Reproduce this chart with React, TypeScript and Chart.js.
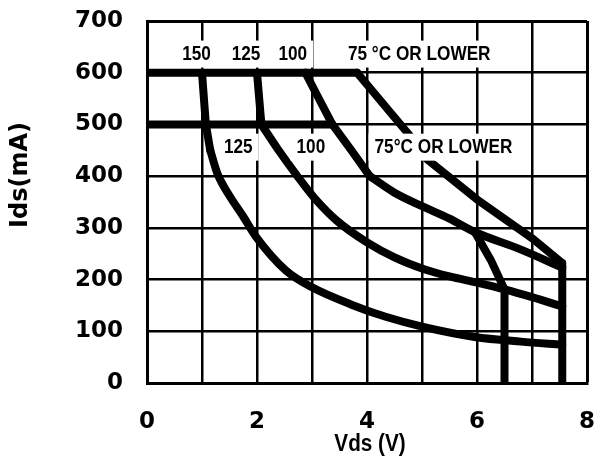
import React, { useEffect, useRef } from 'react';
import { Chart, registerables } from 'chart.js';

Chart.register(...registerables);

// ---- data (Vds in V, Ids in mA) ----
const xMin = 0;
const xMax = 8;
const yMin = 0;
const yMax = 700;
const xTickLabelEvery = 2;

const limit600Vds = [0, 3.82];
const limit600Ids = [600, 600];
const limit500Vds = [0, 3.37];
const limit500Ids = [500, 500];

// 150 °C (upper) / 125 °C (lower): steep part, then knee/tail
const t150SteepVds = [1.0, 1.07, 1.15];
const t150SteepIds = [600, 500, 450];
const t150TailVds = [1.15, 1.28, 1.5, 1.75, 1.98, 2.53, 3.0, 3.73, 4.34, 5.04, 5.96, 6.8, 7.55];
const t150TailIds = [450, 405, 362, 322, 283, 217, 185, 151, 128, 108, 89, 80, 74];

// 125 °C (upper) / 100 °C (lower)
const t125SteepVds = [2.0, 2.08];
const t125SteepIds = [600, 500];
const t125TailVds = [2.08, 2.38, 2.72, 3.05, 3.45, 4.0, 4.5, 5.04, 5.5, 6.0, 6.5, 7.0, 7.55];
const t125TailIds = [500, 452, 402, 357, 314, 272, 243, 220, 206, 194, 181, 166, 148];

// 100 °C (upper) / 75 °C (lower)
const t100SteepVds = [2.88, 3.1, 3.37, 3.73, 4.05];
const t100SteepIds = [600, 555, 500, 448, 400];
const t100TailVds = [4.05, 4.5, 5.0, 5.5, 5.96, 6.8, 7.55];
const t100TailIds = [400, 368, 342, 318, 292, 258, 223];

// 75 °C or lower (upper family), ends on the 7.55 V limit
const t75Vds = [3.82, 4.75, 5.1, 6.0, 7.0, 7.55, 7.55];
const t75Ids = [600, 482, 432, 355, 280, 232, 0];

// 75 °C or lower (lower family), ends on the 6.5 V limit
const t75LowVds = [5.96, 6.25, 6.5, 6.5];
const t75LowIds = [292, 238, 181, 0];

const curveLabels = ['150', '125', '100', '75 °C OR LOWER', '125', '100', '75°C OR LOWER'];
const curveLabelVds = [0.9, 1.8, 2.65, 4.95, 1.66, 2.98, 5.39];
const curveLabelIds = [637, 637, 637, 637, 457, 457, 457];

const xTitle = 'Vds (V)';
const yTitle = 'Ids(mA)';

const zip = (xs: number[], ys: number[]) => xs.map((x, i) => ({ x, y: ys[i] }));

const annotatePlugin = {
  id: 'annotate',
  afterDatasetsDraw(chart: any) {
    const { ctx, scales } = chart;
    const xs = scales.x;
    const ys = scales.y;
    ctx.save();
    ctx.font = 'bold 20px "Liberation Sans"';
    ctx.textAlign = 'center';
    ctx.textBaseline = 'middle';
    const squeeze = 0.86;
    curveLabels.forEach((t, i) => {
      const px = xs.getPixelForValue(curveLabelVds[i]);
      const py = ys.getPixelForValue(curveLabelIds[i]);
      const w = ctx.measureText(t).width * squeeze;
      ctx.fillStyle = '#ffffff';
      ctx.fillRect(px - w / 2 - 6, py - 13, w + 12, 27);
      ctx.fillStyle = '#000000';
      ctx.save();
      ctx.translate(px, py + 1);
      ctx.scale(squeeze, 1);
      ctx.fillText(t, 0, 0);
      ctx.restore();
    });
    ctx.restore();
  },
  afterDraw(chart: any) {
    const { ctx, chartArea } = chart;
    ctx.save();
    ctx.fillStyle = '#000000';
    ctx.font = 'bold 23px "Liberation Sans"';
    ctx.textAlign = 'center';
    ctx.textBaseline = 'alphabetic';
    ctx.save();
    ctx.translate((chartArea.left + chartArea.right) / 2 + 3, 451);
    ctx.scale(0.9, 1);
    ctx.fillText(xTitle, 0, 0);
    ctx.restore();
    ctx.translate(21, 175);
    ctx.rotate(-Math.PI / 2);
    ctx.font = 'bold 24px "DejaVu Sans"';
    ctx.textBaseline = 'middle';
    ctx.fillText(yTitle, 0, 0);
    ctx.restore();
  },
};

export default function App() {
  const ref = useRef<HTMLCanvasElement | null>(null);

  useEffect(() => {
    document.body.style.margin = '0';
    if (!ref.current) return;
    const tickFont = { family: 'DejaVu Sans', size: 23, weight: 'bold' as const };
    const lineDs = (xs: number[], ys: number[], smooth: boolean) => ({
      data: zip(xs, ys),
      borderColor: '#000000',
      backgroundColor: '#000000',
      borderWidth: 8,
      pointRadius: 0,
      tension: smooth ? 0.4 : 0,
      cubicInterpolationMode: smooth ? ('monotone' as const) : ('default' as const),
      fill: false,
      borderJoinStyle: 'round' as const,
      borderCapStyle: 'round' as const,
    });
    const chart = new Chart(ref.current, {
      type: 'line',
      data: {
        datasets: [
          lineDs(limit600Vds, limit600Ids, false),
          lineDs(limit500Vds, limit500Ids, false),
          lineDs(t150SteepVds, t150SteepIds, false),
          lineDs(t150TailVds, t150TailIds, true),
          lineDs(t125SteepVds, t125SteepIds, false),
          lineDs(t125TailVds, t125TailIds, true),
          lineDs(t100SteepVds, t100SteepIds, false),
          lineDs(t100TailVds, t100TailIds, true),
          lineDs(t75Vds, t75Ids, false),
          lineDs(t75LowVds, t75LowIds, false),
        ],
      },
      options: {
        animation: false,
        responsive: false,
        maintainAspectRatio: false,
        layout: { padding: { top: 21, right: 7, left: 0, bottom: 0 } },
        plugins: { legend: { display: false }, tooltip: { enabled: false } },
        scales: {
          x: {
            type: 'linear',
            min: xMin,
            max: xMax,
            afterFit: (s: any) => {
              s.height = 75;
              s.paddingLeft = 0;
              s.paddingRight = 0;
              s.paddingTop = 0;
              s.paddingBottom = 0;
            },
            ticks: {
              stepSize: 1,
              autoSkip: false,
              maxRotation: 0,
              padding: 25,
              color: '#000000',
              font: tickFont,
              callback: (v: any) => (Number(v) % xTickLabelEvery === 0 ? String(v) : ''),
            },
            grid: {
              color: '#000000',
              lineWidth: (c: any) => (c.tick && c.tick.value === xMax ? 3 : 2.5),
              drawTicks: false,
            },
            border: { color: '#000000', width: 3 },
          },
          y: {
            type: 'linear',
            min: yMin,
            max: yMax,
            afterFit: (s: any) => {
              s.width = 147;
              s.paddingLeft = 0;
              s.paddingRight = 0;
              s.paddingTop = 0;
              s.paddingBottom = 0;
            },
            ticks: {
              stepSize: 100,
              padding: 24,
              color: '#000000',
              font: tickFont,
            },
            grid: {
              color: '#000000',
              lineWidth: (c: any) => (c.tick && c.tick.value === yMax ? 3 : 2.5),
              drawTicks: false,
            },
            border: { color: '#000000', width: 3 },
          },
        },
      },
      plugins: [annotatePlugin],
    });
    return () => chart.destroy();
  }, []);

  return (
    <div style={{ width: 594, height: 458, background: '#ffffff' }}>
      <canvas ref={ref} width={594} height={458} style={{ display: 'block' }} />
    </div>
  );
}
